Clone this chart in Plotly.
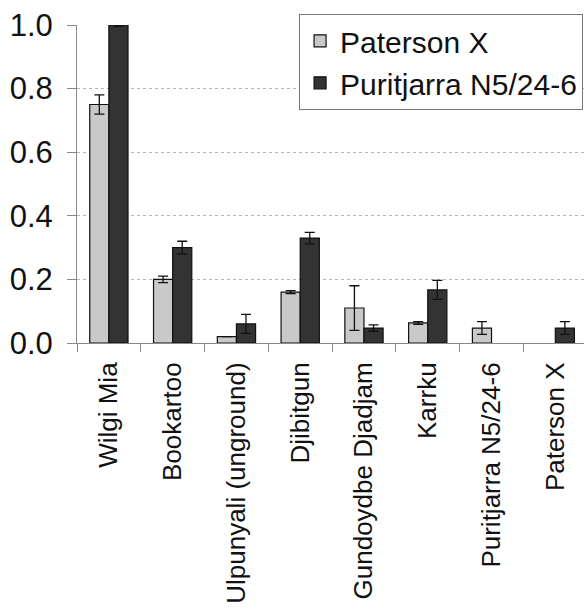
import plotly.graph_objects as go

categories = ["Wilgi Mia", "Bookartoo", "Ulpunyali (unground)", "Djibitgun",
              "Gundoydbe Djadjam", "Karrku", "Puritjarra N5/24-6", "Paterson X"]
paterson = [0.75, 0.20, 0.02, 0.16, 0.11, 0.063, 0.047, None]
paterson_err = [0.03, 0.01, 0.0, 0.005, 0.07, 0.004, 0.02, None]
puritjarra = [1.0, 0.30, 0.06, 0.33, 0.047, 0.167, None, 0.047]
puritjarra_err = [0.004, 0.02, 0.03, 0.018, 0.01, 0.03, None, 0.02]
yticks = [0.0, 0.2, 0.4, 0.6, 0.8, 1.0]

FONT = "Liberation Sans, Arial, sans-serif"

fig = go.Figure()
fig.add_trace(go.Bar(
    x=categories, y=paterson, name="Paterson X",
    marker=dict(color="#c9c9c9", line=dict(color="#111111", width=1.2)),
    error_y=dict(type="data", array=paterson_err, color="#111111", thickness=1.3, width=5),
))
fig.add_trace(go.Bar(
    x=categories, y=puritjarra, name="Puritjarra N5/24-6",
    marker=dict(color="#333333", line=dict(color="#111111", width=1.2)),
    error_y=dict(type="data", array=puritjarra_err, color="#111111", thickness=1.3, width=5),
))

fig.update_layout(
    width=584, height=609,
    margin=dict(l=77, r=0, t=25, b=266),
    paper_bgcolor="white", plot_bgcolor="white",
    barmode="group", bargap=0.4, bargroupgap=0,
    font=dict(family=FONT, color="#111111"),
    showlegend=True,
    legend=dict(
        x=0.438, y=1.035, xanchor="left", yanchor="top",
        bgcolor="white", bordercolor="#777777", borderwidth=1,
        font=dict(size=30, family=FONT, color="#111111"),
        tracegroupgap=0, itemwidth=30,
    ),
    xaxis=dict(
        type="category", range=[-0.5, 7.45],
        tickangle=-90, tickfont=dict(size=26, family=FONT, color="#111111"),
        ticks="outside", ticklen=8, tickcolor="#888888", tickson="boundaries",
        ticklabelstandoff=8,
        showline=True, linecolor="#888888", linewidth=1,
        showgrid=False,
    ),
    yaxis=dict(
        range=[0, 1.0], tickvals=yticks, ticktext=[f"{v:.1f}" for v in yticks],
        tickfont=dict(size=31, family=FONT, color="#111111"),
        ticks="outside", ticklen=9, tickcolor="#888888",
        ticklabelstandoff=8,
        showline=True, linecolor="#888888", linewidth=1,
        showgrid=True, gridcolor="#b5b5b5", griddash="dot", gridwidth=1,
        zeroline=False,
    ),
)

fig.write_html("out.html")
